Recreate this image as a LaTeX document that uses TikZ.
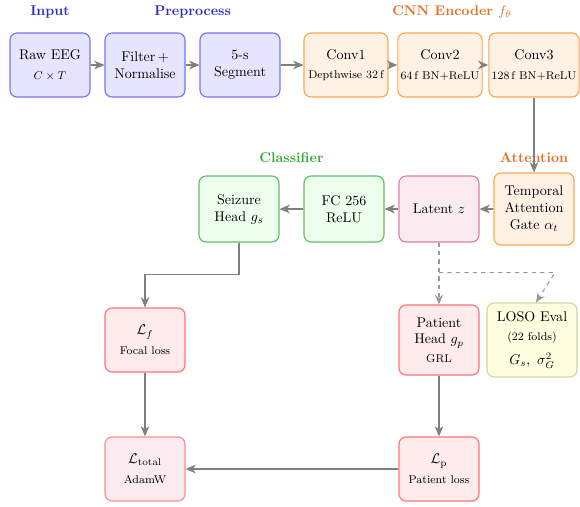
\documentclass[tikz,border=0pt]{standalone}
\usetikzlibrary{arrows.meta,positioning}

\definecolor{inblue}{RGB}{45,45,200}
\definecolor{encorange}{RGB}{225,115,35}
\definecolor{clsgreen}{RGB}{50,175,50}

\begin{document}
\begin{tikzpicture}[inputnode/.style={rectangle,
					rounded corners=5pt,
					thick,
					minimum width=2cm,
					minimum height=1.6cm,
					align=center,
					draw=blue!55,
					fill=blue!10},
					encnode/.style={rectangle,
					rounded corners=5pt,
					thick,
					minimum width=2.1cm,
					minimum height=1.6cm,
					inner sep=2pt,
					align=center,
					draw=orange!70,
					fill=orange!10},
					clsnode/.style={rectangle,
					rounded corners=5pt,
					thick,
					minimum width=2cm,
					minimum height=1.65cm,
					align=center,
					draw=green!55!black!60,
					fill=green!7},
					latentnode/.style={rectangle,
					rounded corners=5pt,
					thick,
					minimum width=2cm,
					minimum height=1.65cm,
					align=center,
					draw=purple!50,
					fill=purple!8},
					lossnode/.style={rectangle,
					rounded corners=5pt,
					thick,
					minimum width=2cm,
					minimum height=1.6cm,
					align=center,
					draw=red!55,
					fill=red!8},
					evalnode/.style={rectangle,
					rounded corners=5pt,
					thick,
					minimum width=2.25cm,
					minimum height=1.85cm,
					align=center,
					draw=yellow!60!black!45,
					fill=yellow!12},
					flow/.style={-{Stealth[length=2.6mm,width=2.2mm]}, thick, draw=black!50},
					dflow/.style={-{Stealth[length=2.4mm,width=2mm]}, thick, dashed, draw=black!40}
					]

% fixes the page size
\useasboundingbox (0,0) rectangle (14.5,-12.65);

%input and preprocess
\node[inputnode] (raw) at (1.25,-1.625) {Raw EEG\\[2pt] {\footnotesize $C\times T$}};
\node[inputnode] (filt) [right of = raw, node distance=2.375cm] {Filter\,+\\Normalise};
\node[inputnode] (seg) [right of = filt, node distance=2.375cm] {5-s\\Segment};

%encoder
\node[encnode] (conv1) [right of = seg, node distance=2.65cm] {Conv1\\[2pt] {\footnotesize Depthwise 32\,f}};
\node[encnode] (conv2) [right of = conv1, node distance=2.35cm] {Conv2\\[2pt] {\footnotesize 64\,f BN+ReLU}};
\node[encnode] (conv3) [right of = conv2, node distance=2.35cm] {Conv3\\[2pt] {\footnotesize 128\,f BN+ReLU}};

%attention, latent and classifier
\node[encnode, minimum width=2cm, minimum height=1.8cm] (att) [below of = conv3, node distance=3.6cm] {Temporal\\Attention\\Gate $\alpha_t$};
\node[latentnode] (latent) [left of = att, node distance=2.375cm] {Latent $z$};
\node[clsnode] (fc) [left of = latent, node distance=2.375cm] {FC 256\\ReLU};
\node[clsnode] (seizure) [left of = fc, node distance=2.625cm] {Seizure\\Head $g_s$};

%heads and losses
\node[lossnode, minimum height=1.75cm] (patient) [below of = latent, node distance=3.275cm] {Patient\\Head $g_p$\\[1pt] {\footnotesize GRL}};
\node[evalnode] (loso) [right of = patient, node distance=2.325cm] {LOSO Eval\\[2pt] {\footnotesize (22 folds)}\\[5pt] $G_s,\ \sigma_G^2$};
\node[lossnode] (lf) [below of = filt, node distance=6.875cm] {$\mathcal{L}_f$\\[2pt] {\footnotesize Focal loss}};
\node[lossnode] (lp) [below of = patient, node distance=3.225cm] {$\mathcal{L}_\mathrm{p}$\\[2pt] {\footnotesize Patient loss}};
\node[latentnode, minimum height=1.6cm, draw=red!45] (ltotal) [below of = lf, node distance=3.225cm] {$\mathcal{L}_\mathrm{total}$\\[2pt] {\footnotesize AdamW}};

%group titles
\node[text=inblue, font=\bfseries] (inputTitle) [above of = raw, node distance=1.33cm] {Input};
\node[text=inblue, font=\bfseries] (preTitle) [above of = filt, node distance=1.33cm, xshift=1.19cm] {Preprocess};
\node[text=encorange, font=\bfseries] (encTitle) [above of = conv2, node distance=1.33cm, xshift=0.3cm] {CNN Encoder $f_\theta$};
\node[text=clsgreen, font=\bfseries] (clsTitle) [above of = fc, node distance=1.28cm, xshift=-1.31cm] {Classifier};
\node[text=encorange, font=\bfseries] (attTitle) [above of = att, node distance=1.28cm] {Attention};

%forward paths
\draw[flow] (raw) -- (filt);
\draw[flow] (filt) -- (seg);
\draw[flow] (seg) -- (conv1);
\draw[flow] (conv1) -- (conv2);
\draw[flow] (conv2) -- (conv3);
\draw[flow] (conv3) -- (att);
\draw[flow] (att) -- (latent);
\draw[flow] (latent) -- (fc);
\draw[flow] (fc) -- (seizure);
\draw[flow] (seizure.south) -- ++(0,-0.8) -| (lf.north);
\draw[flow] (lf) -- (ltotal);
\draw[flow] (patient) -- (lp);
\draw[flow] (lp) -- (ltotal);

%dashed paths
\coordinate (split) at ([yshift=-0.75cm]latent.south);
\coordinate (evalCorner) at ([xshift=2.9cm]split);
\draw[dflow] (latent) -- (patient);
\draw[dflow] (split) -- (evalCorner) -- ([xshift=0.1cm]loso.north);
\end{tikzpicture}
\end{document}
